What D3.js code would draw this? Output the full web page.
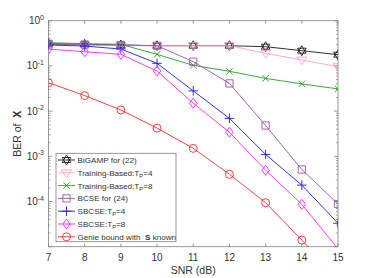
<!DOCTYPE html>
<html lang="en">
<head>
  <meta charset="UTF-8">
  <title>BER of X vs SNR</title>
  <script src="https://d3js.org/d3.v7.min.js"></script>
  <style>
    body { margin: 0; background: #fff; }
    text { font-family: "Liberation Sans", Arial, Helvetica, sans-serif; }
  </style>
</head>
<body>
  <svg width="374" height="278"></svg>

  <script>
    // data
    const snr = [7, 8, 9, 10, 11, 12, 13, 14, 15];
    const bigamp   = [0.31, 0.30, 0.29, 0.28, 0.28, 0.28, 0.266, 0.217, 0.177];
    const trainTp4 = [0.30, 0.29, 0.28, 0.28, 0.28, 0.28, 0.19, 0.135, 0.096];
    const trainTp8 = [0.326, 0.31, 0.30, 0.18, 0.103, 0.076, 0.053, 0.04, 0.031];
    const bcse     = [0.30, 0.295, 0.29, 0.28, 0.124, 0.041, 0.0048, 5.1e-4, 8.8e-5];
    const sbcseTp4 = [0.29, 0.275, 0.236, 0.114, 0.028, 0.0069, 0.0011, 2.3e-4, 3.3e-5];
    const sbcseTp8 = [0.236, 0.206, 0.18, 0.077, 0.0149, 0.0034, 4.9e-4, 8.7e-5, 9e-6];
    const genie    = [0.0426, 0.022, 0.0106, 0.0042, 0.0015, 4.0e-4, 9.4e-5, 1.4e-5, 2e-6];

    const series = [
      { name: "BiGAMP for (22)", values: bigamp, color: "#1a1a1a", marker: "hex" },
      { name: "Training-Based:T", sub: "P", tail: "=4", values: trainTp4, color: "#ff9fc8", marker: "tri" },
      { name: "Training-Based:T", sub: "P", tail: "=8", values: trainTp8, color: "#22a022", marker: "x" },
      { name: "BCSE for (24)", values: bcse, color: "#9a55a8", marker: "square" },
      { name: "SBCSE:T", sub: "P", tail: "=4", values: sbcseTp4, color: "#1a1aff", marker: "plus" },
      { name: "SBCSE:T", sub: "P", tail: "=8", values: sbcseTp8, color: "#ff22ff", marker: "diamond" },
      { name: "Genie bound with\u00a0\u00a0", bold: "S", tail: " known", values: genie, color: "#ff2a2a", marker: "circle" }
    ];

    const yTicks = [1, 0.1, 0.01, 1e-3, 1e-4];
    const yExp = ["0", "-1", "-2", "-3", "-4"];

    const svg = d3.select("svg");
    const pLeft = 48.5, pRight = 338, pTop = 20.7, pBottom = 246.7;
    const axisColor = "#808080";
    const textColor = "#333";

    const x = d3.scaleLinear().domain([7, 15]).range([pLeft, pRight]);
    const y = d3.scaleLog().domain([1e-5, 1]).range([pBottom, pTop]);

    // marker shapes
    function markerPath(type, s) {
      const p = d3.path();
      if (type === "hex") {
        const r = s * 0.62;
        for (let k = 0; k < 2; k++) {
          for (let i = 0; i < 3; i++) {
            const a = -Math.PI / 2 + k * Math.PI + i * 2 * Math.PI / 3;
            if (i === 0) p.moveTo(r * Math.cos(a), r * Math.sin(a));
            else p.lineTo(r * Math.cos(a), r * Math.sin(a));
          }
          p.closePath();
        }
      } else if (type === "tri") {
        const r = s * 0.62;
        p.moveTo(-r, -r * 0.6); p.lineTo(r, -r * 0.6); p.lineTo(0, r * 0.95); p.closePath();
      } else if (type === "x") {
        const r = s * 0.4;
        p.moveTo(-r, -r); p.lineTo(r, r); p.moveTo(-r, r); p.lineTo(r, -r);
      } else if (type === "square") {
        const r = s * 0.45;
        p.rect(-r, -r, 2 * r, 2 * r);
      } else if (type === "plus") {
        const r = s * 0.6;
        p.moveTo(-r, 0); p.lineTo(r, 0); p.moveTo(0, -r); p.lineTo(0, r);
      } else if (type === "diamond") {
        const r = s * 0.62;
        p.moveTo(0, -r); p.lineTo(r * 0.75, 0); p.lineTo(0, r); p.lineTo(-r * 0.75, 0); p.closePath();
      } else if (type === "circle") {
        const r = s * 0.5;
        p.moveTo(r, 0); p.arc(0, 0, r, 0, 2 * Math.PI);
      }
      return p.toString();
    }

    // axes box
    svg.append("rect")
      .attr("x", pLeft).attr("y", pTop)
      .attr("width", pRight - pLeft).attr("height", pBottom - pTop)
      .attr("fill", "none").attr("stroke", axisColor).attr("stroke-width", 0.8);

    // x ticks (bottom and top, inward)
    snr.forEach(v => {
      svg.append("line").attr("x1", x(v)).attr("x2", x(v)).attr("y1", pBottom).attr("y2", pBottom - 3)
        .attr("stroke", axisColor).attr("stroke-width", 0.8);
      svg.append("line").attr("x1", x(v)).attr("x2", x(v)).attr("y1", pTop).attr("y2", pTop + 3)
        .attr("stroke", axisColor).attr("stroke-width", 0.8);
      svg.append("text").attr("x", x(v)).attr("y", 261)
        .attr("text-anchor", "middle").attr("font-size", 10).attr("fill", textColor)
        .text(v);
    });

    // y ticks, major + minor
    for (let e = -5; e <= 0; e++) {
      const base = Math.pow(10, e);
      svg.append("line").attr("x1", pLeft).attr("x2", pLeft + 4).attr("y1", y(base)).attr("y2", y(base))
        .attr("stroke", axisColor).attr("stroke-width", 0.8);
      svg.append("line").attr("x1", pRight).attr("x2", pRight - 4).attr("y1", y(base)).attr("y2", y(base))
        .attr("stroke", axisColor).attr("stroke-width", 0.8);
      if (e < 0) {
        for (let m = 2; m <= 9; m++) {
          const v = base * m;
          svg.append("line").attr("x1", pLeft).attr("x2", pLeft + 2).attr("y1", y(v)).attr("y2", y(v))
            .attr("stroke", axisColor).attr("stroke-width", 0.7);
          svg.append("line").attr("x1", pRight).attr("x2", pRight - 2).attr("y1", y(v)).attr("y2", y(v))
            .attr("stroke", axisColor).attr("stroke-width", 0.7);
        }
      }
    }

    yTicks.forEach((v, i) => {
      const t = svg.append("text").attr("x", 44).attr("y", y(v) + 3.5)
        .attr("text-anchor", "end").attr("font-size", 10).attr("fill", textColor);
      t.append("tspan").text("10");
      t.append("tspan").attr("dy", -4.5).attr("font-size", 7).text(yExp[i]);
    });

    // axis labels
    svg.append("text").attr("x", (pLeft + pRight) / 2).attr("y", 274)
      .attr("text-anchor", "middle").attr("font-size", 10.5).attr("fill", textColor)
      .text("SNR (dB)");

    const yl = svg.append("text")
      .attr("transform", "translate(21," + ((pTop + pBottom) / 2) + ") rotate(-90)")
      .attr("text-anchor", "middle").attr("font-size", 10.5).attr("fill", textColor);
    yl.append("tspan").text("BER of\u00a0\u00a0");
    yl.append("tspan").attr("font-weight", "bold").text("X");

    // clip to axes
    svg.append("clipPath").attr("id", "plot")
      .append("rect").attr("x", pLeft).attr("y", pTop)
      .attr("width", pRight - pLeft).attr("height", pBottom - pTop);

    const plot = svg.append("g").attr("clip-path", "url(#plot)");
    const line = d3.line().x((d, i) => x(snr[i])).y(d => y(d));

    series.forEach(s => {
      plot.append("path").datum(s.values)
        .attr("d", line).attr("fill", "none")
        .attr("stroke", s.color).attr("stroke-width", 0.9);
    });
    series.forEach(s => {
      s.values.forEach((v, i) => {
        if (v < 1e-5) return;
        plot.append("path")
          .attr("transform", "translate(" + x(snr[i]) + "," + y(v) + ")")
          .attr("d", markerPath(s.marker, 8))
          .attr("fill", "none").attr("stroke", s.color).attr("stroke-width", 0.9);
      });
    });

    // legend
    const lg = svg.append("g");
    const lx = 56, ly = 153.3, lw = 120, lh = 88.4;
    lg.append("rect").attr("x", lx).attr("y", ly).attr("width", lw).attr("height", lh)
      .attr("fill", "#fff").attr("stroke", axisColor).attr("stroke-width", 0.8);

    series.forEach((s, i) => {
      const cy = 160 + i * 12.8;
      lg.append("line").attr("x1", 58).attr("x2", 75).attr("y1", cy).attr("y2", cy)
        .attr("stroke", s.color).attr("stroke-width", 0.9);
      lg.append("path").attr("transform", "translate(66.5," + cy + ")")
        .attr("d", markerPath(s.marker, 8))
        .attr("fill", "none").attr("stroke", s.color).attr("stroke-width", 0.9);
      const t = lg.append("text").attr("x", 77.5).attr("y", cy + 3)
        .attr("font-size", 8.1).attr("fill", textColor);
      t.append("tspan").text(s.name);
      if (s.sub) {
        t.append("tspan").attr("dy", 2).attr("font-size", 5.8).text(s.sub);
        t.append("tspan").attr("dy", -2).text(s.tail);
      }
      if (s.bold) {
        t.append("tspan").attr("font-weight", "bold").text(s.bold);
        t.append("tspan").text(s.tail);
      }
    });
  </script>
</body>
</html>
